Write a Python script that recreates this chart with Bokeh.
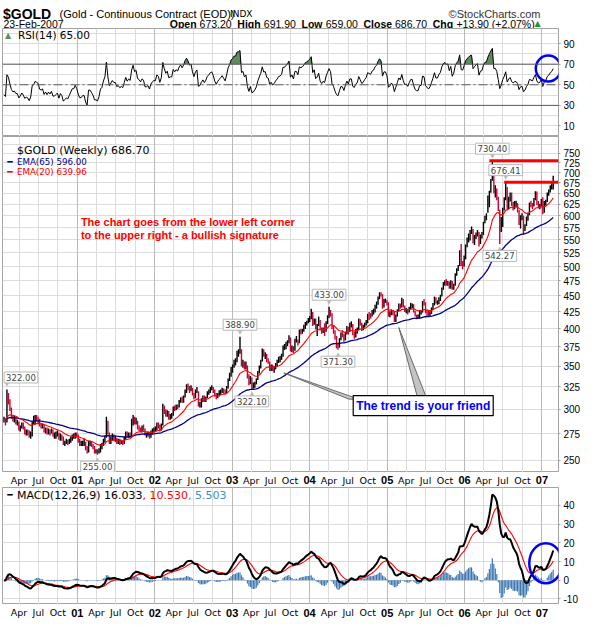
import numpy as np
import pandas as pd
from bokeh.plotting import figure
from bokeh.layouts import column
from bokeh.models import (Range1d, FixedTicker, Grid, Label, Span,
                          PrintfTickFormatter, ColumnDataSource)
from bokeh.core.properties import value
from bokeh.embed import file_html
from bokeh.resources import INLINE

# ------------------------------------------------------------------
# DATA: weekly $GOLD bars, Friday 21-Jan-2000 .. Friday 23-Feb-2007
# (one row per calendar month)
# ------------------------------------------------------------------
FIRST_WEEK = "2000-01-21"

CLOSE_2000 = [289.5, 287,
              313, 310, 301, 293,
              289, 290, 286, 286, 279,
              281, 284, 281, 276,
              277, 276, 272, 275,
              286, 287, 291, 290, 289,
              283, 282, 283, 277,
              279, 276, 278, 276,
              278, 273, 273, 274, 275,
              270, 273, 271, 265,
              266, 267, 266, 268,
              270, 272, 272, 274, 272]
HIGH_2000 = [292, 290,
             322, 318, 311, 302,
             294, 293, 291, 289, 287,
             283, 286, 286, 282,
             279, 279, 278, 277,
             287, 293, 294, 294, 292,
             290, 285, 285, 284,
             281, 281, 280, 279,
             280, 279, 276, 277, 278,
             276, 275, 274, 272,
             268, 270, 269, 270,
             272, 274, 275, 276, 276]
LOW_2000 = [286, 283,
            286, 305, 298, 290,
            287, 286, 284, 283, 278,
            277, 280, 279, 274,
            273, 273, 271, 270,
            272, 284, 284, 287, 284,
            282, 280, 280, 276,
            275, 274, 274, 273,
            275, 272, 270, 270, 272,
            269, 268, 268, 264,
            263, 265, 264, 265,
            266, 268, 270, 270, 271]

CLOSE_2001 = [268, 265, 265, 266,
              266, 261, 258, 266,
              266, 264, 262, 258, 258,
              257, 259, 263, 264,
              268, 271, 287, 276,
              267, 270, 273, 271, 271,
              267, 268, 266, 267,
              266, 270, 275, 272, 274,
              273, 284, 291, 286,
              288, 281, 280, 278,
              281, 280, 274, 274, 275,
              272, 276, 278, 279]
HIGH_2001 = [274, 270, 268, 268,
             270, 267, 263, 268,
             268, 267, 265, 263, 260,
             260, 261, 265, 266,
             270, 273, 292, 288,
             276, 272, 275, 274, 273,
             271, 270, 270, 269,
             268, 272, 277, 277, 276,
             276, 290, 294, 292,
             291, 288, 283, 281,
             283, 284, 280, 276, 277,
             276, 278, 280, 281]
LOW_2001 = [266, 263, 263, 263,
            263, 259, 256, 257,
            263, 262, 260, 256, 256,
            255, 256, 257, 260,
            263, 266, 271, 274,
            265, 265, 268, 268, 267,
            265, 265, 264, 265,
            264, 265, 269, 271, 271,
            271, 272, 283, 284,
            284, 279, 277, 276,
            276, 278, 273, 271, 272,
            270, 271, 274, 276]

CLOSE_2002 = [279, 284, 283, 279,
              283, 303, 298, 294,
              297, 291, 292, 292, 302,
              300, 303, 302, 308,
              311, 309, 313, 321, 326,
              324, 321, 323, 317,
              313, 319, 322, 305,
              306, 310, 313, 310, 313,
              318, 320, 323, 324,
              321, 316, 313, 316,
              318, 320, 322, 320, 318,
              324, 333, 338, 347]
HIGH_2002 = [282, 286, 286, 284,
             285, 306, 304, 300,
             299, 298, 295, 296, 303,
             304, 305, 305, 310,
             313, 314, 315, 322, 328,
             329, 326, 327, 324,
             318, 322, 325, 320,
             308, 312, 315, 315, 314,
             320, 322, 325, 327,
             325, 322, 318, 318,
             321, 322, 324, 323, 322,
             326, 335, 342, 349]
LOW_2002 = [277, 278, 280, 277,
            278, 283, 295, 292,
            292, 289, 289, 290, 293,
            298, 299, 300, 302,
            307, 307, 307, 313, 318,
            321, 318, 320, 315,
            311, 312, 318, 303,
            302, 302, 308, 308, 308,
            312, 316, 318, 321,
            318, 314, 311, 312,
            314, 316, 318, 317, 316,
            318, 323, 332, 337]

CLOSE_2003 = [350, 356, 356, 367, 368,
              372, 353, 355, 349,
              352, 337, 329, 336,
              325, 326, 329, 333,
              342, 349, 356, 371, 364,
              365, 357, 356, 347,
              350, 346, 348, 352,
              355, 359, 360, 362, 375,
              375, 379, 382, 388,
              371, 375, 370, 384, 384,
              380, 397, 396, 398,
              402, 408, 410, 413]
HIGH_2003 = [352, 358, 360, 370, 372,
             388.9, 372, 358, 356,
             356, 351, 340, 338,
             336, 330, 331, 335,
             344, 351, 358, 373, 372,
             368, 366, 360, 356,
             352, 352, 350, 354,
             358, 362, 363, 366, 377,
             379, 382, 384, 391,
             388, 377, 376, 386, 390,
             385, 399, 400, 400,
             406, 410, 412, 416]
LOW_2003 = [342, 348, 351, 355, 362,
            366, 350, 348, 346,
            346, 335, 327, 328,
            322.1, 323, 324, 328,
            333, 341, 347, 356, 362,
            359, 355, 353, 344,
            344, 344, 342, 346,
            350, 354, 355, 358, 362,
            371, 372, 376, 380,
            369, 368, 367, 370, 381,
            377, 380, 392, 393,
            396, 400, 405, 408]

CLOSE_2004 = [417, 424, 407, 413, 401,
              404, 412, 400, 396,
              400, 398, 410, 418,
              427, 423, 403, 398, 388,
              380, 377, 385, 393,
              392, 385, 394, 402,
              397, 407, 407, 394, 392,
              398, 400, 412, 407,
              401, 403, 408, 411,
              421, 420, 419, 425, 427,
              434, 437, 447, 454,
              452, 434, 443, 443, 438]
HIGH_2004 = [419, 430, 425, 415, 415,
             407, 418, 413, 402,
             402, 408, 411, 420,
             433, 428, 423, 405, 398,
             390, 381, 387, 395,
             398, 393, 396, 404,
             403, 409, 411, 407, 396,
             400, 402, 415, 414,
             409, 406, 409, 413,
             422, 425, 423, 428, 430,
             436, 441, 449, 456,
             456, 453, 445, 446, 443]
LOW_2004 = [410, 414, 404, 406, 399,
            390, 404, 398, 393,
            394, 390, 396, 407,
            416, 418, 400, 393, 385,
            373, 371.3, 374, 384,
            388, 382, 384, 392,
            392, 396, 402, 391, 386,
            388, 393, 398, 405,
            397, 398, 402, 405,
            408, 413, 415, 418, 421,
            424, 430, 436, 445,
            449, 430, 432, 439, 435]

CLOSE_2005 = [420, 422, 427, 424,
              412, 419, 427, 436,
              433, 444, 434, 427,
              428, 424, 430, 436, 436,
              427, 420, 418, 418,
              425, 425, 440, 439,
              426, 424, 421, 424, 430,
              437, 447, 440, 440,
              446, 450, 462, 470, 473,
              471, 472, 465, 474,
              462, 468, 486, 495,
              501, 527, 503, 502, 518]
HIGH_2005 = [440, 426, 429, 428,
             426, 421, 429, 438,
             438, 447, 445, 435,
             431, 430, 433, 439, 438,
             437, 427, 421, 421,
             428, 428, 442, 445,
             440, 428, 427, 426, 432,
             439, 449, 448, 443,
             448, 452, 464, 473, 476,
             478, 475, 474, 476,
             475, 470, 488, 497,
             503, 530, 542, 510, 520]
LOW_2005 = [418, 417, 420, 420,
            410, 410, 418, 426,
            430, 432, 432, 425,
            423, 421, 424, 429, 431,
            424, 418, 414, 415,
            415, 421, 424, 435,
            423, 418, 418, 418, 422,
            428, 435, 438, 436,
            437, 442, 449, 460, 467,
            467, 467, 462, 462,
            460, 460, 467, 484,
            492, 501, 501, 495, 500]

CLOSE_2006 = [540, 551, 559, 568,
              571, 546, 555, 563,
              567, 543, 558, 560, 584,
              598, 600, 629, 654,
              682, 714, 654, 655,
              644, 612, 568, 586, 616,
              636, 668, 616, 635,
              646, 625, 617, 624,
              625, 615, 585, 598, 600,
              573, 579, 595, 604,
              627, 625, 621, 637,
              650, 628, 620, 623, 635]
HIGH_2006 = [541, 555, 563, 570,
             577, 572, 560, 565,
             570, 566, 561, 566, 587,
             600, 605, 645, 656,
             684, 730.4, 717, 669,
             661, 642, 613, 597, 617,
             641, 676.41, 665, 642,
             652, 652, 630, 632,
             633, 628, 612, 601, 605,
             600, 582, 598, 606,
             629, 633, 628, 639,
             655, 654, 632, 626, 637]
LOW_2006 = [513, 536, 545, 549,
            562, 543, 540, 552,
            557, 537, 542, 553, 560,
            584, 590, 606, 618,
            651, 680, 650, 640,
            634, 610, 542.27, 566, 576,
            611, 634, 613, 614,
            631, 621, 611, 614,
            618, 607, 580, 573, 590,
            560, 568, 578, 589,
            601, 618, 614, 620,
            634, 623, 616, 614, 620]

CLOSE_2007 = [609, 627, 632, 650,
              656, 667, 672.8, 686.7]
HIGH_2007 = [641, 632, 635, 652,
             659, 669, 674, 691.9]
LOW_2007 = [603, 606, 622, 630,
            644, 652, 659, 659]

CLOSE = CLOSE_2000 + CLOSE_2001 + CLOSE_2002 + CLOSE_2003 + CLOSE_2004 + CLOSE_2005 + CLOSE_2006 + CLOSE_2007
HIGH = HIGH_2000 + HIGH_2001 + HIGH_2002 + HIGH_2003 + HIGH_2004 + HIGH_2005 + HIGH_2006 + HIGH_2007
LOW = LOW_2000 + LOW_2001 + LOW_2002 + LOW_2003 + LOW_2004 + LOW_2005 + LOW_2006 + LOW_2007

# texts printed on the chart
HEADER_SYMBOL = "$GOLD"
HEADER_NAME = "(Gold - Continuous Contract (EOD))"
HEADER_EXCH = "INDX"
HEADER_DATE = "23-Feb-2007"
HEADER_INFO = [("Open", "673.20"), ("High", "691.90"), ("Low", "659.00"),
               ("Close", "686.70"), ("Chg", "+13.90 (+2.07%)")]
RSI_LEGEND = "RSI(14) 65.00"
PRICE_LEGEND = "$GOLD (Weekly) 686.70"
EMA65_LEGEND = "EMA(65) 596.00"
EMA20_LEGEND = "EMA(20) 639.96"
MACD_LEGEND = ["MACD(12,26,9) 16.033", ", 10.530", ", 5.503"]
NOTE_LINES = ["The chart goes from the lower left corner",
              "to the upper right - a bullish signature"]
TREND_TEXT = "The trend is your friend"

# axes
X_START, X_END = "2000-01-14", "2007-03-20"
RSI_RANGE = (-0.2, 104.6)
PRICE_RANGE = (239.2, 796.5)
MACD_RANGE = (-13.0, 49.6)
RSI_TICKS = [10, 30, 50, 70, 90]
RSI_GRID = [0, 10, 20, 30, 40, 50, 60, 70, 80, 90, 100]
RSI_LEVELS = [30, 70]
RSI_MID = 50
PRICE_TICKS = [250, 275, 300, 325, 350, 375, 400, 425, 450, 475, 500,
               525, 550, 575, 600, 625, 650, 675, 700, 725, 750]
PRICE_GRID = PRICE_TICKS + [775]
MACD_TICKS = [-10, 0, 10, 20, 30, 40]
QUARTER_DATES = ["2000-04-01", "2000-07-01", "2000-10-01",
                 "2001-01-01", "2001-04-01", "2001-07-01", "2001-10-01",
                 "2002-01-01", "2002-04-01", "2002-07-01", "2002-10-01",
                 "2003-01-01", "2003-04-01", "2003-07-01", "2003-10-01",
                 "2004-01-01", "2004-04-01", "2004-07-01", "2004-10-01",
                 "2005-01-01", "2005-04-01", "2005-07-01", "2005-10-01",
                 "2006-01-01", "2006-04-01", "2006-07-01", "2006-10-01",
                 "2007-01-01"]
QUARTER_LABELS = ["Apr", "Jul", "Oct",
                  "01", "Apr", "Jul", "Oct",
                  "02", "Apr", "Jul", "Oct",
                  "03", "Apr", "Jul", "Oct",
                  "04", "Apr", "Jul", "Oct",
                  "05", "Apr", "Jul", "Oct",
                  "06", "Apr", "Jul", "Oct",
                  "07"]

# annotations (data coordinates: date, value)
PRICE_MARKS = [("2000-02-04", 322.00, "above", 14), ("2001-04-06", 255.00, "below", 0),
               ("2003-02-07", 388.90, "above", 0), ("2003-04-04", 322.10, "below", 0),
               ("2004-04-02", 433.00, "above", 0), ("2004-05-14", 371.30, "below", 0),
               ("2006-05-12", 730.40, "above", 0), ("2006-07-14", 676.41, "above", 0),
               ("2006-06-16", 542.27, "below", 0)]
RESISTANCE = [("2006-04-28", 730.4), ("2006-07-07", 676.41)]
TREND_BOX = ("2005-06-20", 304.0)
TREND_TAILS = [[("2003-09-02", 341.6), ("2004-07-05", 311.0), ("2004-08-20", 311.0)],
               [("2005-02-25", 402.0), ("2005-05-26", 311.0), ("2005-07-08", 311.0)]]
RSI_CIRCLE = ("2007-01-31", 65.8)
MACD_CIRCLE = ("2007-01-19", 9.1)

# ------------------------------------------------------------------
# styles / layout
# ------------------------------------------------------------------
TOTAL_W = 584
LEFT_B, RIGHT_B = 2, 26
FW = TOTAL_W - LEFT_B - RIGHT_B
HEADER_H, RSI_H, MAIN_H, STRIP1_H, MACD_H, STRIP2_H = 28, 108, 336, 15, 117, 16
FRAME_COLOR = "#a3a3a3"
GRID_LIGHT = "#dcdcdc"
GRID_YEAR = "#b9b9b9"
BAR_UP, BAR_DOWN = "#000000", "#cc0033"
SANS = "DejaVu Sans"
ARIAL = "Liberation Sans"


def ms(d):
    return pd.Timestamp(d).value / 1e6


n = len(CLOSE)
weeks = pd.date_range(FIRST_WEEK, periods=n, freq="W-FRI")
xw = (weeks.asi8 // 10**6).astype(float)
close = np.array(CLOSE, float)
high = np.array(HIGH, float)
low = np.array(LOW, float)


def ema(v, span):
    a = 2.0 / (span + 1)
    out = np.empty_like(v)
    out[0] = v[0]
    for i in range(1, len(v)):
        out[i] = out[i - 1] + a * (v[i] - out[i - 1])
    return out


ema20 = ema(close, 20)
ema65 = ema(close, 65)
macd = ema(close, 12) - ema(close, 26)
signal = ema(macd, 9)
hist = macd - signal

# RSI(14), Wilder smoothing
chg = np.diff(close, prepend=close[0])
g, l = 1.7, 2.5
rsi = np.empty(n)
for i in range(n):
    g = (g * 13 + max(chg[i], 0)) / 14
    l = (l * 13 + max(-chg[i], 0)) / 14
    rsi[i] = 100 * g / (g + l)

prev = np.concatenate([[close[0]], close[:-1]])
bar_color = np.where(close >= prev, BAR_UP, BAR_DOWN)

xr = Range1d(ms(X_START), ms(X_END))
q_ms = [ms(d) for d in QUARTER_DATES]
is_year = [lab.isdigit() for lab in QUARTER_LABELS]
q_minor = [t for t, y in zip(q_ms, is_year) if not y]
q_major = [t for t, y in zip(q_ms, is_year) if y]


def fx(px):
    return xr.start + px / FW * (xr.end - xr.start)


def fy_lin(py, rng, h):
    return rng[1] - py / h * (rng[1] - rng[0])


def fy_log(py, rng, h):
    a, b = np.log(rng[0]), np.log(rng[1])
    return float(np.exp(b - py / h * (b - a)))


def put(p, x, y, s, font, size, bold=False, color="#000000", align="left", baseline="alphabetic"):
    p.text(x=[x], y=[y], text=[s], text_font=value(font), text_font_size=f"{size}px",
           text_font_style="bold" if bold else "normal", text_color=color,
           text_align=align, text_baseline=baseline)


def panel(h, rng, ticks, ygrid, ytype="linear"):
    p = figure(width=TOTAL_W, height=h, x_range=xr, y_range=Range1d(*rng),
               y_axis_type=ytype, x_axis_location=None, y_axis_location="right",
               toolbar_location=None, output_backend="svg",
               min_border_left=LEFT_B, min_border_right=RIGHT_B,
               min_border_top=0, min_border_bottom=0)
    p.outline_line_color = FRAME_COLOR
    p.grid.visible = False
    ax = p.yaxis[0]
    ax.ticker = FixedTicker(ticks=ticks)
    ax.formatter = PrintfTickFormatter(format="%d")
    ax.axis_line_color = None
    ax.major_tick_in = 0
    ax.major_tick_out = 2
    ax.major_tick_line_color = "#999999"
    ax.minor_tick_line_color = None
    ax.major_label_standoff = 3
    ax.major_label_text_font = ARIAL
    ax.major_label_text_font_size = "10px"
    ax.major_label_text_color = "#000000"
    p.add_layout(Grid(dimension=1, ticker=FixedTicker(ticks=ygrid), grid_line_color=GRID_LIGHT))
    p.add_layout(Grid(dimension=0, ticker=FixedTicker(ticks=q_minor), grid_line_color=GRID_LIGHT))
    p.add_layout(Grid(dimension=0, ticker=FixedTicker(ticks=q_major), grid_line_color=GRID_YEAR))
    return p


def strip(h):
    p = figure(width=TOTAL_W, height=h, x_range=xr, y_range=Range1d(0, 1),
               x_axis_location=None, y_axis_location=None, toolbar_location=None,
               output_backend="svg", min_border_left=LEFT_B, min_border_right=RIGHT_B,
               min_border_top=0, min_border_bottom=0)
    p.outline_line_color = None
    p.grid.visible = False
    months = [(t, s) for t, s, y in zip(q_ms, QUARTER_LABELS, is_year) if not y]
    years = [(t, s) for t, s, y in zip(q_ms, QUARTER_LABELS, is_year) if y]
    p.text(x=[t for t, _ in months], y=[0.5] * len(months), text=[s for _, s in months],
           text_font=value(SANS), text_font_size="9.5px", text_align="center",
           text_baseline="middle", text_color="#000000")
    p.text(x=[t for t, _ in years], y=[0.5] * len(years), text=[s for _, s in years],
           text_font=value(ARIAL), text_font_size="11px", text_font_style="bold",
           text_align="center", text_baseline="middle", text_color="#000000")
    return p


# ---------------- header ----------------
hdr = figure(width=TOTAL_W, height=HEADER_H, x_range=Range1d(0, TOTAL_W),
             y_range=Range1d(0, HEADER_H), x_axis_location=None, y_axis_location=None,
             toolbar_location=None, output_backend="svg", min_border=0)
hdr.outline_line_color = None
hdr.grid.visible = False
put(hdr, 0.5, 15, HEADER_SYMBOL, ARIAL, 14, bold=True)
put(hdr, 60, 15, HEADER_NAME, ARIAL, 11)
put(hdr, 239, 15, HEADER_EXCH, SANS, 9)
put(hdr, 565, 15, "\u00a9StockCharts.com", ARIAL, 11, color="#333333", align="right")
put(hdr, 1, 5, HEADER_DATE, ARIAL, 10.5)

NORM_W = {c: .556 for c in "0123456789"}
NORM_W.update({".": .278, "+": .584, "(": .333, ")": .333, "%": .889, " ": .278})
BOLD_W = {"O": .778, "p": .611, "e": .556, "n": .611, "H": .722, "i": .278, "g": .611,
          "h": .611, "L": .611, "o": .611, "w": .778, "C": .722, "l": .278, "s": .556}
INFO_SIZE = 10.5
GAP_IN, GAP_OUT = 4.5, 7.5


def tw(s, table):
    return sum(table.get(c, .556) for c in s) * INFO_SIZE


xpos = 555.0
for lab, val in reversed(HEADER_INFO):
    xpos -= tw(val, NORM_W)
    put(hdr, xpos, 5, val, ARIAL, INFO_SIZE)
    xpos -= GAP_IN
    xpos -= tw(lab, BOLD_W)
    put(hdr, xpos, 5, lab, ARIAL, INFO_SIZE, bold=True)
    xpos -= GAP_OUT
put(hdr, 562, 5, "\u25b2", SANS, 8, color="#2f8f2f", align="center")

# ---------------- RSI ----------------
prsi = panel(RSI_H, RSI_RANGE, RSI_TICKS, RSI_GRID)
for lv in RSI_LEVELS:
    prsi.add_layout(Span(location=lv, dimension="width", line_color="#5a5a5a", line_width=1))
prsi.add_layout(Span(location=RSI_MID, dimension="width", line_color="#5a5a5a",
                     line_width=1, line_dash="9 3 2 3"))
prsi.varea(x=xw, y1=np.full(n, 70.0), y2=np.maximum(rsi, 70.0), fill_color="#5f8c5f")
prsi.varea(x=xw, y1=np.minimum(rsi, 30.0), y2=np.full(n, 30.0), fill_color="#5f8c5f")
prsi.line(xw, rsi, line_color="#000000", line_width=1)
prsi.ellipse(x=[ms(RSI_CIRCLE[0])], y=[RSI_CIRCLE[1]], width=25, height=26,
             width_units="screen", height_units="screen", fill_color=None,
             line_color="#0000ff", line_width=2.5)
put(prsi, fx(5.5), fy_lin(6.8, RSI_RANGE, RSI_H), "\u25b2", SANS, 8, color="#5f8c5f",
    align="center", baseline="middle")
put(prsi, fx(15.4), fy_lin(6.6, RSI_RANGE, RSI_H), RSI_LEGEND, SANS, 10.5, baseline="middle")

# ---------------- price ----------------
pm = panel(MAIN_H, PRICE_RANGE, PRICE_TICKS, PRICE_GRID, ytype="log")
src = ColumnDataSource(dict(x=xw, hi=high, lo=low, c=close, col=bar_color))
pm.segment(x0="x", y0="lo", x1="x", y1="hi", line_color="col", line_width=1.4, source=src)
pm.line(xw, ema65, line_color="#000080", line_width=1.3)
pm.line(xw, ema20, line_color="#ff0000", line_width=1.1)
for d, v in RESISTANCE:
    pm.segment(x0=[ms(d)], y0=[v], x1=[xr.end], y1=[v], line_color="#ff0000", line_width=3)

for tail in TREND_TAILS:
    pm.patch([ms(d) for d, _ in tail], [v for _, v in tail], fill_color="#c4c4c4",
             line_color="#6a6a6a", line_width=1)
pm.add_layout(Label(x=ms(TREND_BOX[0]), y=TREND_BOX[1], text=TREND_TEXT, x_offset=2, y_offset=-2,
                    text_font=ARIAL, text_font_size="12px", text_font_style="bold",
                    text_align="center", text_baseline="middle", text_alpha=0,
                    background_fill_color="#707070", padding=3))
pm.add_layout(Label(x=ms(TREND_BOX[0]), y=TREND_BOX[1], text=TREND_TEXT,
                    text_font=ARIAL, text_font_size="12px", text_font_style="bold",
                    text_color="#0000ff", text_align="center", text_baseline="middle",
                    background_fill_color="white", border_line_color="#000000",
                    border_line_width=1.2, padding=3))

for d, v, pos, shift in PRICE_MARKS:
    up = pos == "above"
    pm.add_layout(Label(x=ms(d), y=v, text="\u25bc" if up else "\u25b2", text_font=SANS,
                        text_font_size="7px", text_color="#b8b8b8", text_align="center",
                        text_baseline="middle", y_offset=5 if up else -5))
    pm.add_layout(Label(x=ms(d), y=v, text=f"{v:.2f}", text_font=SANS, text_font_size="8.5px",
                        text_align="center", text_baseline="middle", x_offset=shift,
                        y_offset=12 if up else -12, background_fill_color="white",
                        border_line_color="#b8b8b8", border_line_width=1, padding=2))

put(pm, fx(14.4), fy_log(14.4, PRICE_RANGE, MAIN_H), PRICE_LEGEND, SANS, 11, baseline="middle")
put(pm, fx(7.4), fy_log(25.1, PRICE_RANGE, MAIN_H), "\u2501", SANS, 9, color="#000080",
    align="center", baseline="middle")
put(pm, fx(14.4), fy_log(25.1, PRICE_RANGE, MAIN_H), EMA65_LEGEND, SANS, 8.7,
    color="#000080", baseline="middle")
put(pm, fx(7.4), fy_log(35.2, PRICE_RANGE, MAIN_H), "\u2501", SANS, 9, color="#ff0000",
    align="center", baseline="middle")
put(pm, fx(14.4), fy_log(35.2, PRICE_RANGE, MAIN_H), EMA20_LEGEND, SANS, 8.7,
    color="#ff0000", baseline="middle")
for k, line in enumerate(NOTE_LINES):
    put(pm, fx(78.4), fy_log(85.0 + 13.4 * k, PRICE_RANGE, MAIN_H), line, ARIAL, 11,
        bold=True, color="#ff0000", baseline="middle")

# ---------------- MACD ----------------
pmacd = panel(MACD_H, MACD_RANGE, MACD_TICKS, MACD_TICKS)
pmacd.vbar(x=xw, top=hist, bottom=0, width=5.5 * 86400000, fill_color="#3a76b2",
           line_color=None)
pmacd.line(xw, signal, line_color="#ff0000", line_width=1.1)
pmacd.line(xw, macd, line_color="#000000", line_width=2)
pmacd.ellipse(x=[ms(MACD_CIRCLE[0])], y=[MACD_CIRCLE[1]], width=33, height=40,
              width_units="screen", height_units="screen", fill_color=None,
              line_color="#0000ff", line_width=2.5)
ym = fy_lin(7.6, MACD_RANGE, MACD_H)
put(pmacd, fx(7.4), ym, "\u2501", SANS, 9, color="#000000", align="center", baseline="middle")
put(pmacd, fx(14.4), ym, MACD_LEGEND[0], SANS, 11, baseline="middle")
put(pmacd, fx(140.1), ym, MACD_LEGEND[1], SANS, 11, color="#ff0000", baseline="middle")
put(pmacd, fx(185.6), ym, MACD_LEGEND[2], SANS, 11, color="#3d8fc4", baseline="middle")

layout = column(hdr, prsi, pm, strip(STRIP1_H), pmacd, strip(STRIP2_H))
open("out.html", "w").write(file_html(layout, INLINE, title="$GOLD weekly"))
